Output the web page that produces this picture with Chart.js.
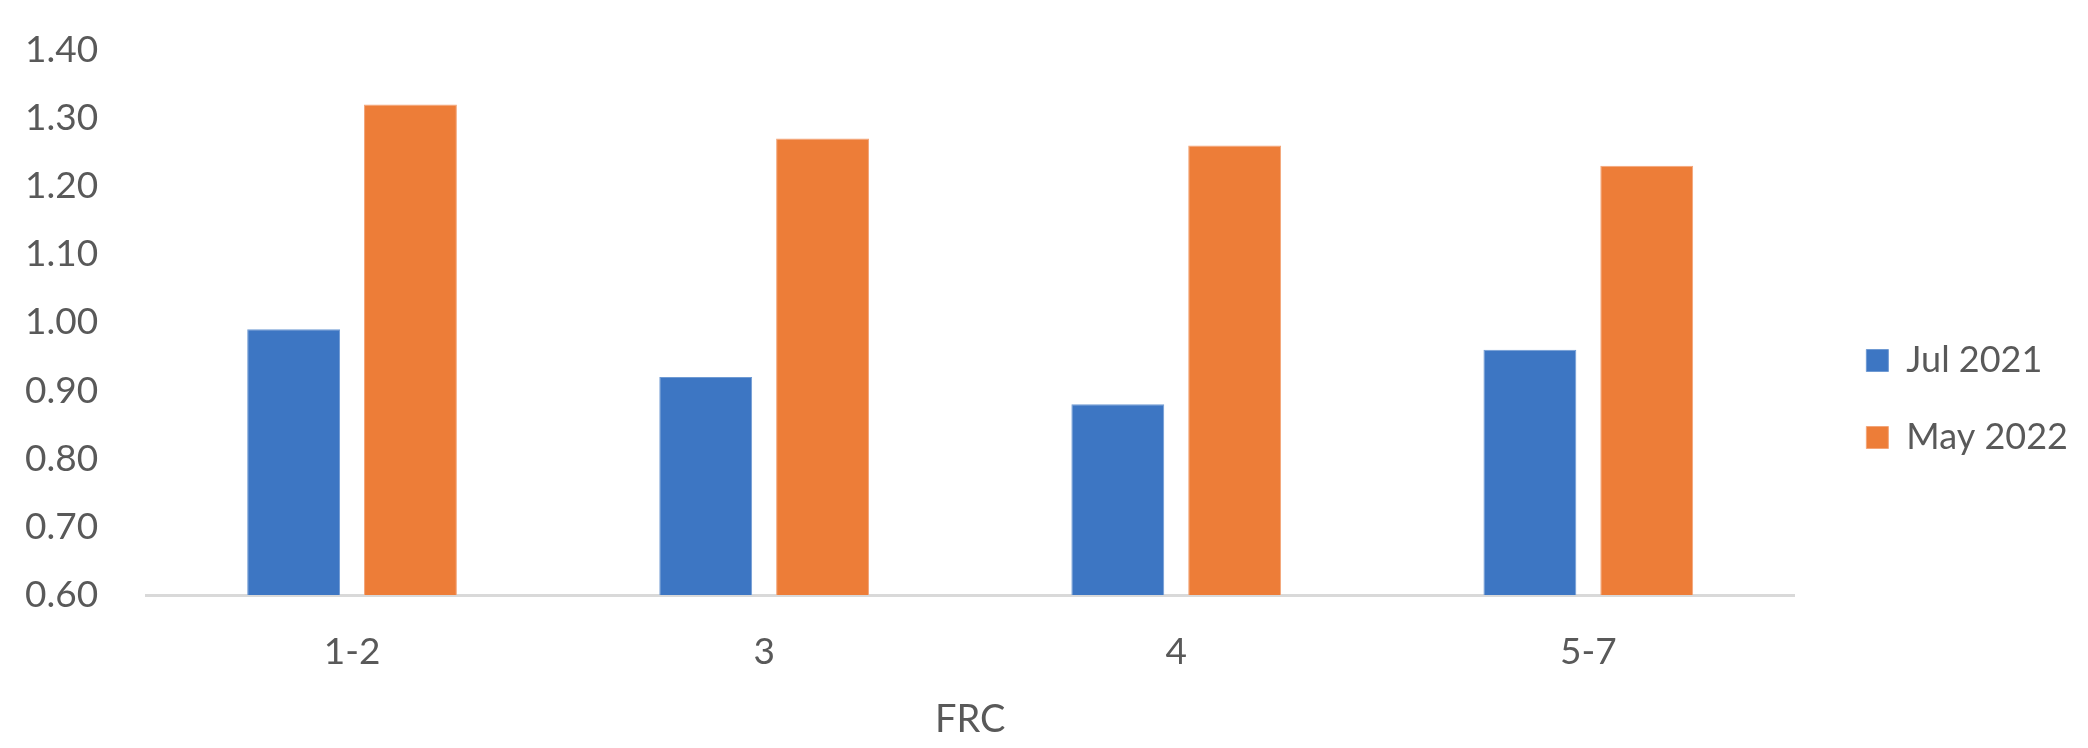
<!DOCTYPE html>
<html>
<head>
<meta charset="utf-8">
<script src="https://cdn.jsdelivr.net/npm/chart.js@4/dist/chart.umd.min.js"></script>
<style>
    html, body { margin: 0; padding: 0; background: #fff; }
    #wrap { width: 2088px; height: 748px; position: relative; }
</style>
</head>
<body>
<div id="wrap"><canvas id="frcChart"></canvas></div>
<script>
// chart data
const categories = ['1-2', '3', '4', '5-7'];
const jul2021 = [0.99, 0.92, 0.88, 0.96];
const may2022 = [1.32, 1.27, 1.26, 1.23];
const seriesNames = ['Jul 2021', 'May 2022'];
const yMin = 0.6;
const yMax = 1.4;
const yStep = 0.1;
const xTitle = 'FRC';

const textColor = '#595959';
const fontFamily = "Lato, 'Open Sans', sans-serif";

const ctx = document.getElementById('frcChart').getContext('2d');

new Chart(ctx, {
    type: 'bar',
    data: {
        labels: categories,
        datasets: [
            {
                label: seriesNames[0],
                data: jul2021,
                backgroundColor: '#3D76C3',
                borderColor: '#6F9AD3',
                borderWidth: 1,
                categoryPercentage: 0.567,
                barPercentage: 0.795
            },
            {
                label: seriesNames[1],
                data: may2022,
                backgroundColor: '#ED7D38',
                borderColor: '#F3A579',
                borderWidth: 1,
                categoryPercentage: 0.567,
                barPercentage: 0.795
            }
        ]
    },
    options: {
        responsive: true,
        maintainAspectRatio: false,
        animation: false,
        layout: {
            padding: { top: 50, right: 10, bottom: 0, left: 25 }
        },
        plugins: {
            legend: {
                position: 'right',
                labels: {
                    boxWidth: 22,
                    boxHeight: 22,
                    padding: 41,
                    color: textColor,
                    font: { family: fontFamily, size: 36 }
                }
            },
            tooltip: { enabled: false }
        },
        scales: {
            x: {
                grid: { display: false, drawTicks: false },
                border: { display: true, color: '#D9D9D9', width: 3 },
                ticks: {
                    color: textColor,
                    padding: 35,
                    font: { family: fontFamily, size: 37 }
                },
                title: {
                    display: true,
                    text: xTitle,
                    color: textColor,
                    padding: { top: 0, bottom: 5 },
                    font: { family: fontFamily, size: 38 }
                },
                afterFit: function(scale) {
                    scale.height = 153;
                }
            },
            y: {
                min: yMin,
                max: yMax,
                grid: { display: false, drawTicks: false },
                border: { display: false },
                ticks: {
                    stepSize: yStep,
                    padding: 0,
                    crossAlign: 'far',
                    color: textColor,
                    font: { family: fontFamily, size: 37 },
                    callback: function(value) {
                        return value.toFixed(2);
                    }
                },
                afterFit: function(scale) {
                    scale.width = 121;
                }
            },
            // empty axis, only keeps a gap between plot and legend
            gap: {
                type: 'linear',
                position: 'right',
                grid: { display: false, drawTicks: false },
                border: { display: false },
                ticks: { display: false },
                afterFit: function(scale) {
                    scale.width = 31;
                }
            }
        }
    }
});
</script>
</body>
</html>
